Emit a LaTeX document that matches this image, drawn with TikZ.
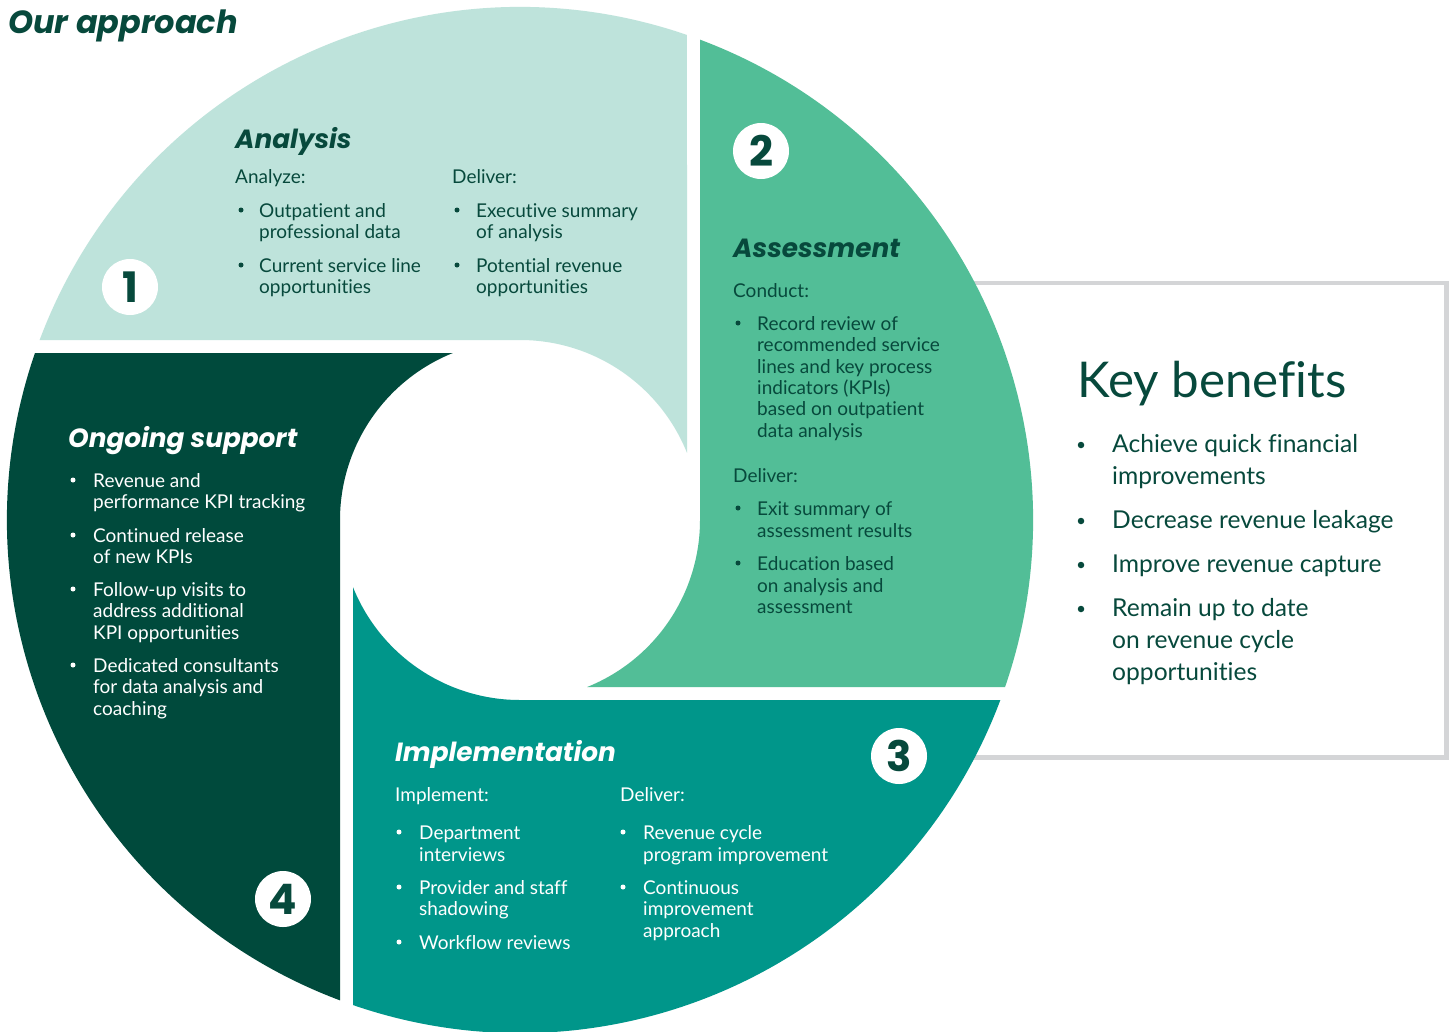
\documentclass[tikz,border=0pt]{standalone}
\usepackage{fontspec}
\setmainfont{Lato}[Ligatures=NoCommon]
\newfontfamily\headfont{Poppins}
\definecolor{cAna}{HTML}{BEE3DB}
\definecolor{cAss}{HTML}{52BE97}
\definecolor{cImp}{HTML}{00968A}
\definecolor{cOng}{HTML}{004A3C}
\definecolor{cTxt}{HTML}{07493C}
\definecolor{cBox}{HTML}{D4D5D7}
\newcommand\txtline[5]{\node[#1] (#2) at (#3,-#4) {#5};}
\newcommand\bulat[4]{\node[#1] (#2) at (#3,-#4) {};}
\tikzset{
  body/.style={anchor=base west, inner sep=0pt, font=\fontsize{19}{19}\selectfont},
  head/.style={anchor=base west, inner sep=0pt, font=\headfont\fontsize{26.3}{26.3}\selectfont\bfseries\itshape},
  kbhead/.style={anchor=base west, inner sep=0pt, font=\fontsize{49.3}{49.3}\selectfont, text=cTxt},
  kbbody/.style={anchor=base west, inner sep=0pt, font=\fontsize{24.6}{24.6}\selectfont, text=cTxt},
  dk/.style={text=cTxt},
  wt/.style={text=white},
  bul/.style={circle, inner sep=0pt, minimum size=5pt, fill=#1},
  kbbul/.style={circle, inner sep=0pt, minimum size=6.5pt, fill=cTxt},
  numc/.style={circle, fill=white, inner sep=0pt, minimum size=56pt, text=cTxt,
    font=\headfont\fontsize{42}{42}\selectfont\bfseries},
}
\begin{document}
\begin{tikzpicture}[x=1pt,y=1pt]
\useasboundingbox (0,0) rectangle (1453,-1031);
\fill[white] (0,0) rectangle (1453,-1031);
% key benefits box (left side hidden behind circle)
\draw[cBox, line width=4.5pt, line join=miter] (900,-283) -- (1446.5,-283) -- (1446.5,-757.5) -- (900,-757.5);
% donut pieces
\begin{scope}[shift={(520,-520)}]
\pgfmathsetmacro\aA{180-asin(180/513)}
\pgfmathsetmacro\aB{acos(167/513)}
\pgfmathsetmacro\aC{acos(167/180)}
\foreach \o/\c in {0/cAna, 270/cAss, 180/cImp, 90/cOng}{
  \fill[\c] ({90+\o}:180) -- ({\aA+\o}:513)
    arc[start angle={\aA+\o}, end angle={\aB+\o}, radius=513]
    -- ({\aC+\o}:180)
    arc[start angle={\aC+\o}, end angle={90+\o}, radius=180] -- cycle;
}
\end{scope}
% title
\node[anchor=base west, inner sep=0pt, font=\headfont\fontsize{32}{32}\selectfont\bfseries\itshape, text=cTxt] (title) at (8,-33) {Our approach};
% numbers
\node[numc] (n1) at (130,-287) {1};
\node[numc] (n2) at (761,-151) {2};
\node[numc] (n3) at (899,-756) {3};
\node[numc] (n4) at (283,-899) {4};
% Analysis
\txtline{head,dk}{aH}{235}{148}{Analysis}
\txtline{body,dk}{aS1}{235}{183}{Analyze:}
\txtline{body,dk}{aS2}{452}{183}{Deliver:}
\bulat{bul=cTxt}{ab1}{241}{210}
\bulat{bul=cTxt}{ab2}{241}{265}
\bulat{bul=cTxt}{ab3}{457}{210}
\bulat{bul=cTxt}{ab4}{457}{265}
\txtline{body,dk}{a1}{259}{217}{Outpatient and}
\txtline{body,dk}{a2}{259}{238}{professional data}
\txtline{body,dk}{a3}{259}{272}{Current service line}
\txtline{body,dk}{a4}{259}{293}{opportunities}
\txtline{body,dk}{a5}{476}{217}{Executive summary}
\txtline{body,dk}{a6}{476}{238}{of analysis}
\txtline{body,dk}{a7}{476}{272}{Potential revenue}
\txtline{body,dk}{a8}{476}{293}{opportunities}
% Assessment
\txtline{head,dk}{sH}{733}{257}{Assessment}
\txtline{body,dk}{sS1}{733}{297}{Conduct:}
\bulat{bul=cTxt}{sb1}{738}{323}
\txtline{body,dk}{s1}{757}{330}{Record review of}
\txtline{body,dk}{s2}{757}{351}{recommended service}
\txtline{body,dk}{s3}{757}{373}{lines and key process}
\txtline{body,dk}{s4}{757}{394}{indicators (KPIs)}
\txtline{body,dk}{s5}{757}{415}{based on outpatient}
\txtline{body,dk}{s6}{757}{437}{data analysis}
\txtline{body,dk}{sS2}{733}{482}{Deliver:}
\bulat{bul=cTxt}{sb2}{738}{508}
\txtline{body,dk}{s7}{757}{515}{Exit summary of}
\txtline{body,dk}{s8}{757}{537}{assessment results}
\bulat{bul=cTxt}{sb3}{738}{563}
\txtline{body,dk}{s9}{757}{570}{Education based}
\txtline{body,dk}{s10}{757}{592}{on analysis and}
\txtline{body,dk}{s11}{757}{613}{assessment}
% Implementation
\txtline{head,wt}{iH}{395}{761}{Implementation}
\txtline{body,wt}{iS1}{395}{801}{Implement:}
\txtline{body,wt}{iS2}{620}{801}{Deliver:}
\bulat{bul=white}{ib1}{399}{832}
\bulat{bul=white}{ib2}{399}{887}
\bulat{bul=white}{ib3}{399}{942}
\bulat{bul=white}{ib4}{623}{832}
\bulat{bul=white}{ib5}{623}{887}
\txtline{body,wt}{i1}{419}{839}{Department}
\txtline{body,wt}{i2}{419}{861}{interviews}
\txtline{body,wt}{i3}{419}{894}{Provider and staff}
\txtline{body,wt}{i4}{419}{915}{shadowing}
\txtline{body,wt}{i5}{419}{949}{Workflow reviews}
\txtline{body,wt}{i6}{643}{839}{Revenue cycle}
\txtline{body,wt}{i7}{643}{861}{program improvement}
\txtline{body,wt}{i8}{643}{894}{Continuous}
\txtline{body,wt}{i9}{643}{915}{improvement}
\txtline{body,wt}{i10}{643}{937}{approach}
% Ongoing support
\txtline{head,wt}{oH}{68}{447}{Ongoing support}
\bulat{bul=white}{ob1}{73}{480}
\bulat{bul=white}{ob2}{73}{535}
\bulat{bul=white}{ob3}{73}{589}
\bulat{bul=white}{ob4}{73}{665}
\txtline{body,wt}{o1}{93}{487}{Revenue and}
\txtline{body,wt}{o2}{93}{508}{performance KPI tracking}
\txtline{body,wt}{o3}{93}{542}{Continued release}
\txtline{body,wt}{o4}{93}{563}{of new KPIs}
\txtline{body,wt}{o5}{93}{596}{Follow-up visits to}
\txtline{body,wt}{o6}{93}{617}{address additional}
\txtline{body,wt}{o7}{93}{639}{KPI opportunities}
\txtline{body,wt}{o8}{93}{672}{Dedicated consultants}
\txtline{body,wt}{o9}{93}{693}{for data analysis and}
\txtline{body,wt}{o10}{93}{715}{coaching}
% Key benefits
\txtline{kbhead}{kH}{1077}{397}{Key benefits}
\bulat{kbbul}{kb1}{1081}{445}
\bulat{kbbul}{kb2}{1081}{521}
\bulat{kbbul}{kb3}{1081}{565}
\bulat{kbbul}{kb4}{1081}{609}
\txtline{kbbody}{k1}{1112}{452}{Achieve quick financial}
\txtline{kbbody}{k2}{1112}{484}{improvements}
\txtline{kbbody}{k3}{1112}{528}{Decrease revenue leakage}
\txtline{kbbody}{k4}{1112}{572}{Improve revenue capture}
\txtline{kbbody}{k5}{1112}{616}{Remain up to date}
\txtline{kbbody}{k6}{1112}{648}{on revenue cycle}
\txtline{kbbody}{k7}{1112}{680}{opportunities}
\end{tikzpicture}
\end{document}
